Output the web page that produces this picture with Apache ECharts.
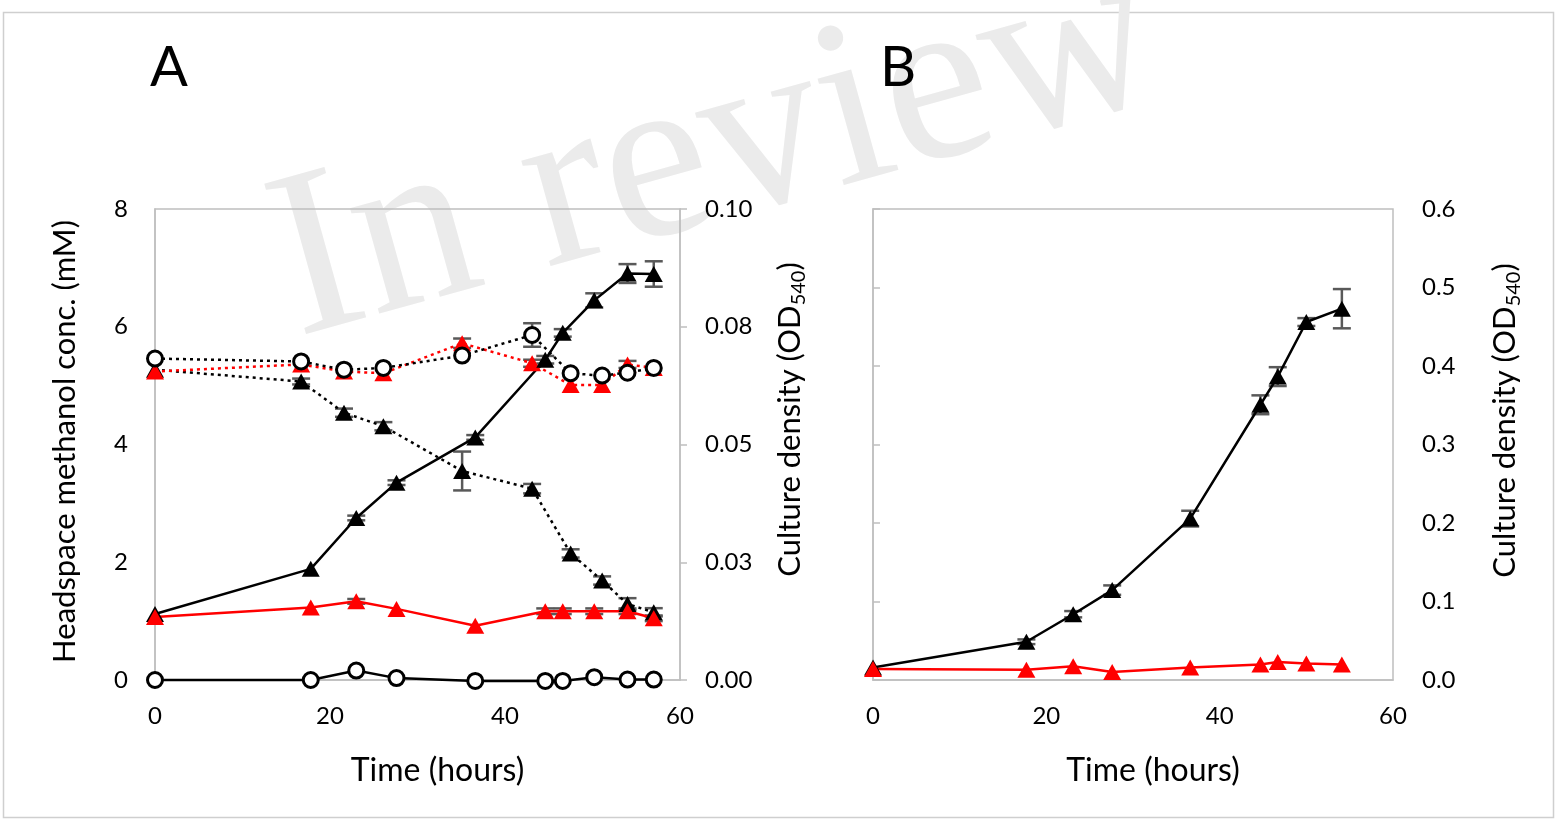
<!DOCTYPE html>
<html><head><meta charset="utf-8">
<script src="https://cdn.jsdelivr.net/npm/echarts@6/dist/echarts.min.js"></script>
<style>html,body{margin:0;padding:0;background:#fff}#c{width:1557px;height:822px}</style>
</head><body><div id="c"></div>
<script>
// ---------- data ----------
const xTickValues = [0, 20, 40, 60];
const leftTickLabelsA = ['0', '2', '4', '6', '8'];
const rightTickLabelsA = ['0.00', '0.03', '0.05', '0.08', '0.10'];
const rightTickLabelsB = ['0.0', '0.1', '0.2', '0.3', '0.4', '0.5', '0.6'];

// Panel A – culture density (right axis)
const hoursA_OD = [0, 17.8, 23.0, 27.6, 36.6, 44.6, 46.6, 50.2, 54.0, 57.0];
const odA_cells = [0.014, 0.0236, 0.0344, 0.0419, 0.0515, 0.068, 0.0737, 0.0806, 0.0863, 0.0862];
const odA_cells_err = [0, 0, 0.0005, 0.0005, 0.0005, 0.0008, 0.0008, 0.0015, 0.002, 0.0027];
const odA_ctrl = [0.0134, 0.0154, 0.0167, 0.0151, 0.0115, 0.0146, 0.0146, 0.0146, 0.0146, 0.0131];
const odA_ctrl_err = [0, 0, 0.0005, 0, 0, 0.0006, 0.0006, 0.0006, 0.0006, 0.0006];
const odA_noMeOH = [0, 0, 0.002, 0.0004, -0.0002, -0.0002, -0.0002, 0.0006, 0.0001, 0.0001];

// Panel A – headspace methanol (left axis)
const hoursA_MeOH = [0, 16.7, 21.6, 26.1, 35.1, 43.1, 47.5, 51.1, 54.0, 57.0];
const meohA_cells = [5.27, 5.07, 4.54, 4.31, 3.55, 3.25, 2.15, 1.69, 1.29, 1.15];
const meohA_cells_err = [0, 0.05, 0.07, 0.07, 0.33, 0.08, 0.07, 0.07, 0.1, 0.07];
const meohA_ctrl = [5.24, 5.36, 5.24, 5.21, 5.72, 5.38, 5.01, 5.01, 5.36, 5.30];
const meohA_ctrl_err = [0, 0, 0, 0, 0.08, 0.06, 0, 0, 0.06, 0];
const meohA_abiotic = [5.46, 5.41, 5.27, 5.30, 5.51, 5.86, 5.21, 5.17, 5.22, 5.30];
const meohA_abiotic_err = [0, 0, 0, 0, 0, 0.2, 0, 0, 0, 0];

// Panel B – culture density
const hoursB = [0, 17.7, 23.1, 27.6, 36.6, 44.7, 46.7, 50.0, 54.1];
const odB_cells = [0.016, 0.0487, 0.0838, 0.1145, 0.2056, 0.3506, 0.3865, 0.456, 0.473];
const odB_cells_err = [0, 0.003, 0.004, 0.006, 0.01, 0.012, 0.012, 0.005, 0.025];
const odB_ctrl = [0.014, 0.013, 0.0175, 0.0103, 0.016, 0.0197, 0.023, 0.021, 0.0197];

// ---------- helpers ----------
const FONT = 'Lato';
const GRAY = '#bfbfbf';
const zip = (xs, ys) => xs.map((x, i) => [x, ys[i]]);
const errData = (xs, ys, es) => xs.map((x, i) => [x, ys[i] - es[i], ys[i] + es[i]]).filter((d, i) => es[i] > 0);

function errRender(params, api) {
  const x = api.value(0), lo = api.value(1), hi = api.value(2);
  const p1 = api.coord([x, hi]), p2 = api.coord([x, lo]);
  const w = 9;
  const style = { stroke: '#595959', lineWidth: 2.5 };
  return { type: 'group', children: [
    { type: 'line', shape: { x1: p1[0], y1: p1[1], x2: p2[0], y2: p2[1] }, style },
    { type: 'line', shape: { x1: p1[0] - w, y1: p1[1], x2: p1[0] + w, y2: p1[1] }, style },
    { type: 'line', shape: { x1: p2[0] - w, y1: p2[1], x2: p2[0] + w, y2: p2[1] }, style }
  ]};
}
function errSeries(xi, yi, data) {
  return { type: 'custom', xAxisIndex: xi, yAxisIndex: yi, renderItem: errRender, data, z: 1, silent: true, clip: false };
}
function lineSeries(xi, yi, data, color, dotted, shape) {
  const circle = shape === 'circle';
  return {
    type: 'line', xAxisIndex: xi, yAxisIndex: yi, data, clip: false,
    symbol: circle ? 'circle' : 'triangle',
    symbolSize: circle ? 15 : [18, 16],
    showSymbol: true, z: 3,
    lineStyle: { color, width: 2.5, type: dotted ? [3, 4] : 'solid' },
    itemStyle: circle ? { color: '#fff', borderColor: color, borderWidth: 3 } : { color, borderWidth: 0 },
    emphasis: { disabled: true }
  };
}
const xAxisBase = (gi) => ({
  type: 'value', gridIndex: gi, min: 0, max: 60, interval: 20,
  axisLine: { show: true, lineStyle: { color: GRAY, width: 1.5 } },
  axisTick: { show: false }, splitLine: { show: false },
  axisLabel: { fontFamily: FONT, fontSize: 24, color: '#000', margin: 24 },
  name: 'Time (hours)', nameLocation: 'middle', nameGap: 75,
  nameTextStyle: { fontFamily: FONT, fontSize: 32, color: '#000', padding: [0, 0, 0, 40] }
});
const subRich = { sub: { fontSize: 20, fontFamily: FONT, color: '#000', verticalAlign: 'bottom', lineHeight: 38 } };

const option = {
  animation: false,
  backgroundColor: '#fff',
  graphic: [
    { type: 'rect', shape: { x: 3.5, y: 12.5, width: 1550, height: 805 }, style: { fill: 'none', stroke: '#cfcfcf', lineWidth: 1.5 }, z: -10 },
    { type: 'text', x: 281, y: 276, rotation: 15.5 * Math.PI / 180, z: -5,
      style: { text: 'In review', font: 'normal 238px "Liberation Serif"', fill: '#ebebeb', textAlign: 'left', textVerticalAlign: 'middle', verticalAlign: 'middle' } },
    { type: 'text', left: 150, top: 40, style: { text: 'A', font: 'normal 56px Lato', fill: '#000' } },
    { type: 'text', left: 880, top: 40, style: { text: 'B', font: 'normal 56px Lato', fill: '#000' } }
  ],
  grid: [
    { left: 155, right: 877, top: 209, bottom: 142, show: true, borderColor: GRAY, borderWidth: 1.5, backgroundColor: 'transparent', containLabel: false, outerBoundsMode: 'none' },
    { left: 873, right: 164, top: 209, bottom: 142, show: true, borderColor: GRAY, borderWidth: 1.5, backgroundColor: 'transparent', containLabel: false, outerBoundsMode: 'none' }
  ],
  xAxis: [xAxisBase(0), xAxisBase(1)],
  yAxis: [
    { type: 'value', gridIndex: 0, position: 'left', min: 0, max: 8, interval: 2,
      axisLine: { show: true, lineStyle: { color: GRAY, width: 1.5 } }, axisTick: { show: false }, splitLine: { show: false },
      axisLabel: { fontFamily: FONT, fontSize: 24, color: '#000', margin: 27, formatter: (v) => leftTickLabelsA[Math.round(v / 2)] },
      name: 'Headspace methanol conc. (mM)', nameLocation: 'middle', nameGap: 75, nameRotate: 90,
      nameTextStyle: { fontFamily: FONT, fontSize: 31, color: '#000', padding: [0, 0, 0, 6] } },
    { type: 'value', gridIndex: 0, position: 'right', min: 0, max: 0.1, interval: 0.025,
      axisLine: { show: true, lineStyle: { color: GRAY, width: 1.5 } },
      axisTick: { show: true, inside: false, length: 7, lineStyle: { color: GRAY, width: 1.5 } }, splitLine: { show: false },
      axisLabel: { fontFamily: FONT, fontSize: 24, color: '#000', margin: 25, formatter: (v) => rightTickLabelsA[Math.round(v / 0.025)] },
      name: 'Culture density (OD{sub|540})', nameLocation: 'middle', nameGap: 91, nameRotate: 90,
      nameTextStyle: { fontFamily: FONT, fontSize: 31, color: '#000', lineHeight: 38, padding: [0, 0, 0, 50], rich: subRich } },
    { type: 'value', gridIndex: 1, position: 'right', min: 0, max: 0.6, interval: 0.1,
      axisLine: { show: true, lineStyle: { color: GRAY, width: 1.5 } },
      axisTick: { show: true, inside: false, length: 7, lineStyle: { color: GRAY, width: 1.5 } }, splitLine: { show: false },
      axisLabel: { fontFamily: FONT, fontSize: 24, color: '#000', margin: 29, formatter: (v) => rightTickLabelsB[Math.round(v / 0.1)] },
      name: 'Culture density (OD{sub|540})', nameLocation: 'middle', nameGap: 93, nameRotate: 90,
      nameTextStyle: { fontFamily: FONT, fontSize: 31, color: '#000', lineHeight: 38, padding: [0, 0, 0, 48], rich: subRich } }
  ],
  series: [
    // error bars
    errSeries(0, 0, errData(hoursA_MeOH, meohA_cells, meohA_cells_err)),
    errSeries(0, 0, errData(hoursA_MeOH, meohA_ctrl, meohA_ctrl_err)),
    errSeries(0, 0, errData(hoursA_MeOH, meohA_abiotic, meohA_abiotic_err)),
    errSeries(0, 1, errData(hoursA_OD, odA_cells, odA_cells_err)),
    errSeries(0, 1, errData(hoursA_OD, odA_ctrl, odA_ctrl_err)),
    errSeries(1, 2, errData(hoursB, odB_cells, odB_cells_err)),
    // panel A methanol (dotted)
    lineSeries(0, 0, zip(hoursA_MeOH, meohA_cells), '#000', true, 'triangle'),
    lineSeries(0, 0, zip(hoursA_MeOH, meohA_ctrl), '#ff0000', true, 'triangle'),
    lineSeries(0, 0, zip(hoursA_MeOH, meohA_abiotic), '#000', true, 'circle'),
    // panel A OD (solid)
    lineSeries(0, 1, zip(hoursA_OD, odA_cells), '#000', false, 'triangle'),
    lineSeries(0, 1, zip(hoursA_OD, odA_ctrl), '#ff0000', false, 'triangle'),
    lineSeries(0, 1, zip(hoursA_OD, odA_noMeOH), '#000', false, 'circle'),
    // panel B
    lineSeries(1, 2, zip(hoursB, odB_cells), '#000', false, 'triangle'),
    lineSeries(1, 2, zip(hoursB, odB_ctrl), '#ff0000', false, 'triangle')
  ]
};
const chart = echarts.init(document.getElementById('c'), null, { renderer: 'canvas' });
chart.setOption(option);
</script></body></html>
